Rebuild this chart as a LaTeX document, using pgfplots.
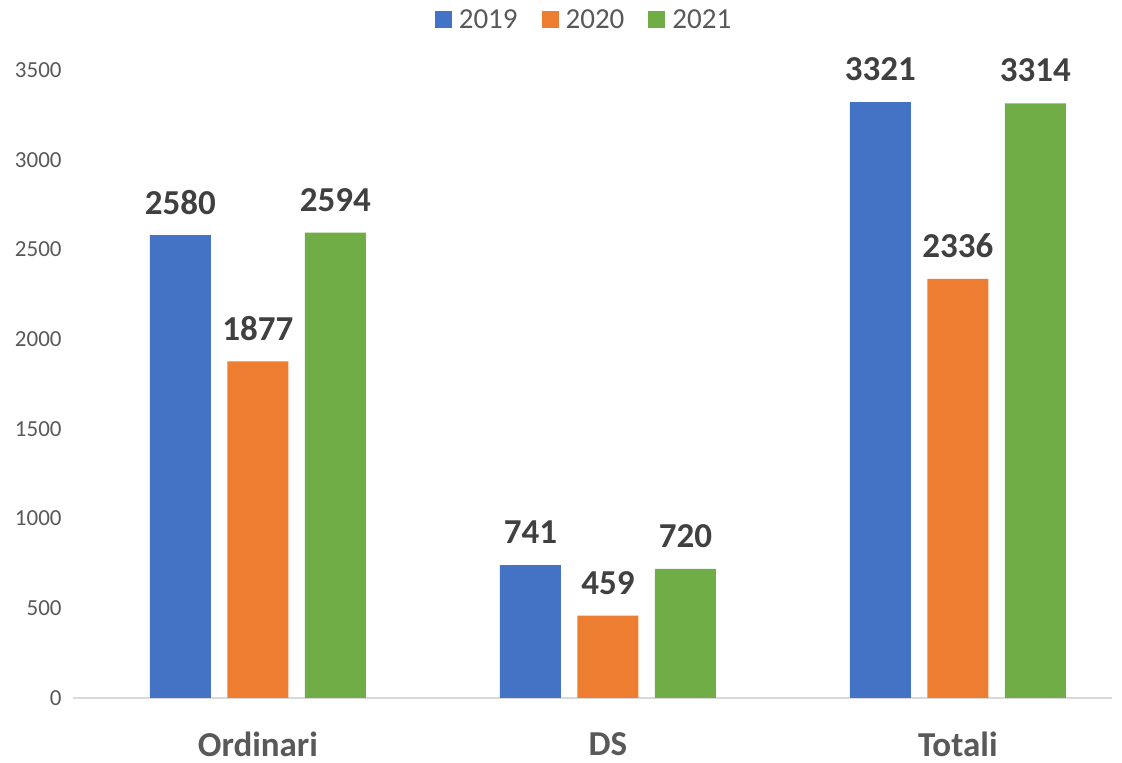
\documentclass[border=0pt]{standalone}
\usepackage{pgfplots}
\pgfplotsset{compat=1.18}
\usepackage{fontspec}
\setmainfont{Carlito}
\definecolor{cblue}{HTML}{4472C4}
\definecolor{corange}{HTML}{ED7D31}
\definecolor{cgreen}{HTML}{70AD47}
\definecolor{tgray}{HTML}{595959}
\definecolor{vgray}{HTML}{404040}
\definecolor{lgray}{HTML}{D9D9D9}
\begin{document}
\begin{tikzpicture}
\begin{axis}[
  x=350pt, y=0.1794pt,
  xmin=-0.529, xmax=2.44,
  ymin=0, ymax=3700,
  clip=false,
  axis x line*=bottom,
  axis y line=none,
  x axis line style={draw=lgray, line width=1.5pt, -},
  xtick=data,
  xticklabels={Ordinari,DS,Totali},
  xtick style={draw=none},
  major tick length=0pt,
  xticklabel style={anchor=center, yshift=-46pt, font=\fontsize{35}{40}\selectfont\bfseries, text=tgray},
  ytick={0,500,1000,1500,2000,2500,3000,3500},
  ybar,
  bar width=61pt,
  every axis plot/.append style={draw=none},
  nodes near coords,
  nodes near coords style={anchor=center, yshift=33pt, font=\fontsize{35}{40}\selectfont\bfseries, text=vgray,
    /pgf/number format/.cd, 1000 sep={}, assume math mode=true},
  legend style={at={(rel axis cs:0.492,1.021)}, anchor=center, draw=none, legend columns=-1,
    font=\fontsize{29}{32}\selectfont, text=tgray,
    /tikz/every odd column/.append style={column sep=5pt},
    /tikz/every even column/.append style={column sep=22pt}},
  legend image code/.code={\fill[#1] (0pt,-8pt) rectangle (17pt,9pt);},
]
\addplot[fill=cblue, bar shift=-77.5pt] coordinates {(0,2580) (1,741) (2,3321)};
\addplot[fill=corange, bar shift=0pt] coordinates {(0,1877) (1,459) (2,2336)};
\addplot[fill=cgreen, bar shift=77.5pt] coordinates {(0,2594) (1,720) (2,3314)};
\legend{2019,2020,2021}
\pgfplotsinvokeforeach{0,500,1000,1500,2000,2500,3000,3500}{
  \node[anchor=east, inner sep=0pt, font=\fontsize{23}{25}\selectfont, text=tgray] at (axis cs:-0.529,#1) [xshift=-11pt] {#1};
}
\coordinate (bl) at (axis cs:-0.737,-362);
\coordinate (tr) at (axis cs:2.469,3891);
\end{axis}
\pgfresetboundingbox
\path[use as bounding box] (bl) rectangle (tr);
\end{tikzpicture}
\end{document}
